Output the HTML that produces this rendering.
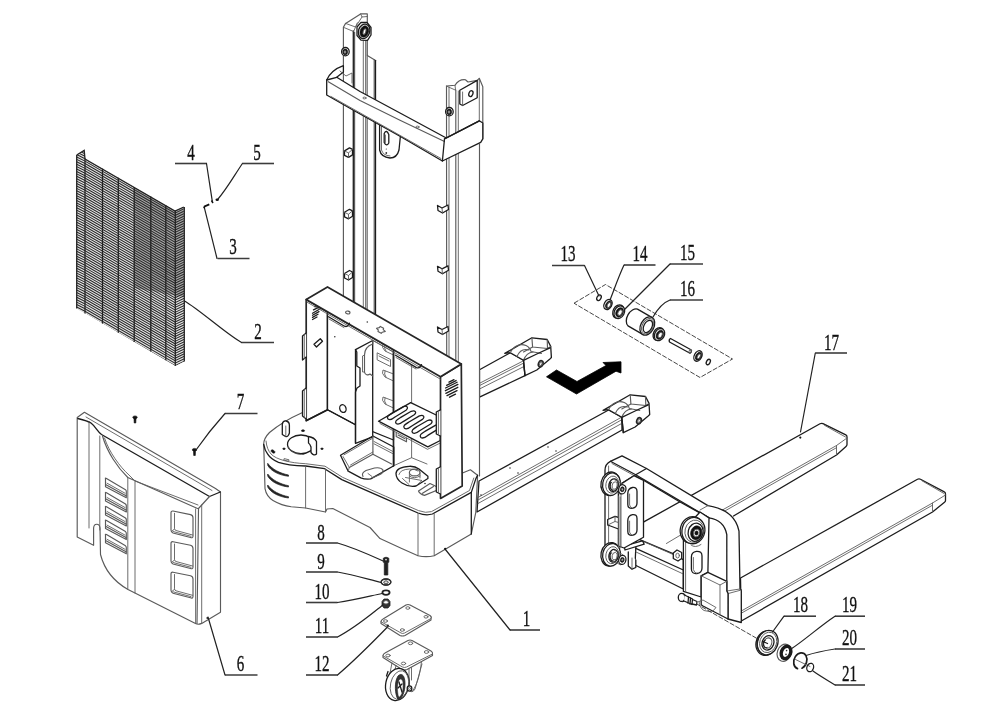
<!DOCTYPE html>
<html><head><meta charset="utf-8"><title>Exploded view</title>
<style>
html,body{margin:0;padding:0;background:#fff;}
body{width:1000px;height:719px;overflow:hidden;font-family:"Liberation Serif",serif;}
svg{display:block;filter:blur(0.45px);}
.m{fill:none;stroke:#1c1c1c;stroke-width:1.3;stroke-linejoin:round;stroke-linecap:round;}
.w{fill:#fff;stroke:#1c1c1c;stroke-width:1.3;stroke-linejoin:round;stroke-linecap:round;}
.t{fill:none;stroke:#5c5c5c;stroke-width:0.9;stroke-linejoin:round;stroke-linecap:round;}
.tw{fill:#fff;stroke:#5c5c5c;stroke-width:0.9;stroke-linejoin:round;}
.g{fill:none;stroke:#5a5a5a;stroke-width:1.15;stroke-linejoin:round;stroke-linecap:round;}
.gw{fill:#fff;stroke:#5a5a5a;stroke-width:1.15;stroke-linejoin:round;stroke-linecap:round;}
.f{fill:none;stroke:#262626;stroke-width:1.7;stroke-linejoin:round;stroke-linecap:round;}
.fw{fill:#fff;stroke:#262626;stroke-width:1.7;stroke-linejoin:round;stroke-linecap:round;}
.nf{fill:#fff;stroke:none;}
.k{fill:#111;stroke:#111;stroke-width:0.6;}
.ld{fill:none;stroke:#222;stroke-width:1.2;stroke-linecap:round;}
.ul{fill:none;stroke:#3c3c3c;stroke-width:1.6;}
.lb{font-family:"Liberation Serif",serif;font-size:23.5px;fill:#111;stroke:#111;stroke-width:0.35;text-anchor:middle;}
.mw{fill:none;stroke:#2a2a2a;stroke-width:1.05;}
.mv{fill:none;stroke:#222;stroke-width:1.3;}
.ds{fill:none;stroke:#333;stroke-width:0.9;stroke-dasharray:5 1.5;}
</style></head><body>
<svg width="1000" height="719" viewBox="0 0 1000 719">
<rect x="0" y="0" width="1000" height="719" fill="#fff"/>
<defs><clipPath id="mc"><path d="M76.7 155 L84.2 150.3 L85 159 L175 211 L183.8 207 L184.3 361.5 L175.6 366 L85 313 L76.7 308.5 Z"/></clipPath></defs>
<g clip-path="url(#mc)">
<path d="M76.7 150 L184.5 150 L184.5 367 L76.7 367 Z" fill="#e6e6e6"/>
<path d="M134.2 180 L184 205 L184 297 L134.2 288 Z" fill="#a8a8a8"/>
<path class="mw" d="M76.7 115.80 L85 120.00 L175 172.00 L184.3 167.50 M76.7 118.22 L85 122.42 L175 174.42 L184.3 169.92 M76.7 120.64 L85 124.84 L175 176.84 L184.3 172.34 M76.7 123.06 L85 127.26 L175 179.26 L184.3 174.76 M76.7 125.48 L85 129.68 L175 181.68 L184.3 177.18 M76.7 127.90 L85 132.10 L175 184.10 L184.3 179.60 M76.7 130.32 L85 134.52 L175 186.52 L184.3 182.02 M76.7 132.74 L85 136.94 L175 188.94 L184.3 184.44 M76.7 135.16 L85 139.36 L175 191.36 L184.3 186.86 M76.7 137.58 L85 141.78 L175 193.78 L184.3 189.28 M76.7 140.00 L85 144.20 L175 196.20 L184.3 191.70 M76.7 142.42 L85 146.62 L175 198.62 L184.3 194.12 M76.7 144.84 L85 149.04 L175 201.04 L184.3 196.54 M76.7 147.26 L85 151.46 L175 203.46 L184.3 198.96 M76.7 149.68 L85 153.88 L175 205.88 L184.3 201.38 M76.7 152.10 L85 156.30 L175 208.30 L184.3 203.80 M76.7 154.52 L85 158.72 L175 210.72 L184.3 206.22 M76.7 156.94 L85 161.14 L175 213.14 L184.3 208.64 M76.7 159.36 L85 163.56 L175 215.56 L184.3 211.06 M76.7 161.78 L85 165.98 L175 217.98 L184.3 213.48 M76.7 164.20 L85 168.40 L175 220.40 L184.3 215.90 M76.7 166.62 L85 170.82 L175 222.82 L184.3 218.32 M76.7 169.04 L85 173.24 L175 225.24 L184.3 220.74 M76.7 171.46 L85 175.66 L175 227.66 L184.3 223.16 M76.7 173.88 L85 178.08 L175 230.08 L184.3 225.58 M76.7 176.30 L85 180.50 L175 232.50 L184.3 228.00 M76.7 178.72 L85 182.92 L175 234.92 L184.3 230.42 M76.7 181.14 L85 185.34 L175 237.34 L184.3 232.84 M76.7 183.56 L85 187.76 L175 239.76 L184.3 235.26 M76.7 185.98 L85 190.18 L175 242.18 L184.3 237.68 M76.7 188.40 L85 192.60 L175 244.60 L184.3 240.10 M76.7 190.82 L85 195.02 L175 247.02 L184.3 242.52 M76.7 193.24 L85 197.44 L175 249.44 L184.3 244.94 M76.7 195.66 L85 199.86 L175 251.86 L184.3 247.36 M76.7 198.08 L85 202.28 L175 254.28 L184.3 249.78 M76.7 200.50 L85 204.70 L175 256.70 L184.3 252.20 M76.7 202.92 L85 207.12 L175 259.12 L184.3 254.62 M76.7 205.34 L85 209.54 L175 261.54 L184.3 257.04 M76.7 207.76 L85 211.96 L175 263.96 L184.3 259.46 M76.7 210.18 L85 214.38 L175 266.38 L184.3 261.88 M76.7 212.60 L85 216.80 L175 268.80 L184.3 264.30 M76.7 215.02 L85 219.22 L175 271.22 L184.3 266.72 M76.7 217.44 L85 221.64 L175 273.64 L184.3 269.14 M76.7 219.86 L85 224.06 L175 276.06 L184.3 271.56 M76.7 222.28 L85 226.48 L175 278.48 L184.3 273.98 M76.7 224.70 L85 228.90 L175 280.90 L184.3 276.40 M76.7 227.12 L85 231.32 L175 283.32 L184.3 278.82 M76.7 229.54 L85 233.74 L175 285.74 L184.3 281.24 M76.7 231.96 L85 236.16 L175 288.16 L184.3 283.66 M76.7 234.38 L85 238.58 L175 290.58 L184.3 286.08 M76.7 236.80 L85 241.00 L175 293.00 L184.3 288.50 M76.7 239.22 L85 243.42 L175 295.42 L184.3 290.92 M76.7 241.64 L85 245.84 L175 297.84 L184.3 293.34 M76.7 244.06 L85 248.26 L175 300.26 L184.3 295.76 M76.7 246.48 L85 250.68 L175 302.68 L184.3 298.18 M76.7 248.90 L85 253.10 L175 305.10 L184.3 300.60 M76.7 251.32 L85 255.52 L175 307.52 L184.3 303.02 M76.7 253.74 L85 257.94 L175 309.94 L184.3 305.44 M76.7 256.16 L85 260.36 L175 312.36 L184.3 307.86 M76.7 258.58 L85 262.78 L175 314.78 L184.3 310.28 M76.7 261.00 L85 265.20 L175 317.20 L184.3 312.70 M76.7 263.42 L85 267.62 L175 319.62 L184.3 315.12 M76.7 265.84 L85 270.04 L175 322.04 L184.3 317.54 M76.7 268.26 L85 272.46 L175 324.46 L184.3 319.96 M76.7 270.68 L85 274.88 L175 326.88 L184.3 322.38 M76.7 273.10 L85 277.30 L175 329.30 L184.3 324.80 M76.7 275.52 L85 279.72 L175 331.72 L184.3 327.22 M76.7 277.94 L85 282.14 L175 334.14 L184.3 329.64 M76.7 280.36 L85 284.56 L175 336.56 L184.3 332.06 M76.7 282.78 L85 286.98 L175 338.98 L184.3 334.48 M76.7 285.20 L85 289.40 L175 341.40 L184.3 336.90 M76.7 287.62 L85 291.82 L175 343.82 L184.3 339.32 M76.7 290.04 L85 294.24 L175 346.24 L184.3 341.74 M76.7 292.46 L85 296.66 L175 348.66 L184.3 344.16 M76.7 294.88 L85 299.08 L175 351.08 L184.3 346.58 M76.7 297.30 L85 301.50 L175 353.50 L184.3 349.00 M76.7 299.72 L85 303.92 L175 355.92 L184.3 351.42 M76.7 302.14 L85 306.34 L175 358.34 L184.3 353.84 M76.7 304.56 L85 308.76 L175 360.76 L184.3 356.26 M76.7 306.98 L85 311.18 L175 363.18 L184.3 358.68 M76.7 309.40 L85 313.60 L175 365.60 L184.3 361.10 M76.7 311.82 L85 316.02 L175 368.02 L184.3 363.52 M76.7 314.24 L85 318.44 L175 370.44 L184.3 365.94 M76.7 316.66 L85 320.86 L175 372.86 L184.3 368.36 M76.7 319.08 L85 323.28 L175 375.28 L184.3 370.78 M76.7 321.50 L85 325.70 L175 377.70 L184.3 373.20 M76.7 323.92 L85 328.12 L175 380.12 L184.3 375.62"/>
</g>
<path class="mv" d="M76.7 155.0 L76.7 308.5"/>
<path class="mv" d="M85 158.5 L85 313.5"/>
<path class="mv" d="M102.5 168.6 L102.5 323.6"/>
<path class="mv" d="M118.3 177.7 L118.3 332.7"/>
<path class="mv" d="M134.2 186.9 L134.2 341.9"/>
<path class="mv" d="M150.8 196.5 L150.8 351.5"/>
<path class="mv" d="M165.8 205.2 L165.8 360.2"/>
<path class="mv" d="M175.3 210.7 L175.3 365.7"/>
<path class="mv" d="M184.3 207.0 L184.3 361.5"/>
<path class="mv" d="M76.7 155 L84.2 150.3 L85 159" />
<path class="mv" d="M85 159 L175 211 L183.8 207" />
<path class="gw" d="M77.2 417.5 L84.4 412.3 L215.5 488.5 L220.5 492 L220.5 612.3 L201.7 623.4 Q198 625 195.5 623.5 L128 589.5 C113 581 104 568 100.5 554.5 L100 528 C99.5 523 94 523 93.6 528 L93.6 545.3 L77.2 537 Z" />
<path class="m" d="M77.8 418.5 C84 420 88 421 91 423 C96 427 97 431 101.5 434.5 L209.5 496.5 L220.3 492" />
<path class="g" d="M209.5 496.5 L198.5 508.5 L197 623.5" />
<path class="t" d="M195.6 509 L195.6 623" />
<path class="t" d="M201.7 505 L201.7 623" />
<path class="t" d="M89 421.5 L89 528" />
<path class="t" d="M99.8 436 L99.8 530" />
<path class="t" d="M86 417 L212 490.5" />
<path class="g" d="M102.5 436 C107 452 118 468 127.8 477.5 L197.5 508.5" />
<path class="t" d="M104.5 438 C109 452 120 467 129 475 L135 481 L198 505" />
<path class="t" d="M127.8 477.5 L127.8 589" />
<path class="t" d="M135 481 L135 593" />
<path class="g" d="M105.5 478.7 Q105 477.7 106.5 478.5 L125.5 489.7 Q126.5 490.7 126.3 491.7 L126.3 497.7 L105.5 486.7 Z" />
<path class="g" d="M106 484.7 L126 495.7" />
<path class="t" d="M107 483.2 L125 493.2" />
<path class="g" d="M105.5 493 Q105 492 106.5 492.8 L125.5 504 Q126.5 505 126.3 506 L126.3 512 L105.5 501 Z" />
<path class="g" d="M106 499 L126 510" />
<path class="t" d="M107 497.5 L125 507.5" />
<path class="g" d="M105.5 507 Q105 506 106.5 506.8 L125.5 518 Q126.5 519 126.3 520 L126.3 526 L105.5 515 Z" />
<path class="g" d="M106 513 L126 524" />
<path class="t" d="M107 511.5 L125 521.5" />
<path class="g" d="M105.5 520.6 Q105 519.6 106.5 520.4 L125.5 531.6 Q126.5 532.6 126.3 533.6 L126.3 539.6 L105.5 528.6 Z" />
<path class="g" d="M106 526.6 L126 537.6" />
<path class="t" d="M107 525.1 L125 535.1" />
<path class="g" d="M105.5 534.8 Q105 533.8 106.5 534.5999999999999 L125.5 545.8 Q126.5 546.8 126.3 547.8 L126.3 553.8 L105.5 542.8 Z" />
<path class="g" d="M106 540.8 L126 551.8" />
<path class="t" d="M107 539.3 L125 549.3" />
<path class="g" d="M171 512.8 Q171 510.8 173 511.0 L190.5 514.6 Q193 515.3 193 517.8 L193 536.0 Q193 538.5 190.5 537.5 L173 533.0 Q171 532.0 171 530.0 Z" />
<path class="t" d="M174.5 513.3 L174.5 528.5 Q174.5 530.0 176 530.5 L192.5 535.0" />
<path class="t" d="M171.5 531.5 L174.5 529.0" />
<path class="t" d="M173 531.5 L191 536.3" />
<path class="g" d="M171 543.5 Q171 541.5 173 541.7 L190.5 545.3 Q193 546.0 193 548.5 L193 567.0 Q193 569.5 190.5 568.5 L173 564.0 Q171 563.0 171 561.0 Z" />
<path class="t" d="M174.5 544.0 L174.5 559.5 Q174.5 561.0 176 561.5 L192.5 566.0" />
<path class="t" d="M171.5 562.5 L174.5 560.0" />
<path class="t" d="M173 562.5 L191 567.3" />
<path class="g" d="M171 574 Q171 572 173 572.2 L190.5 575.8 Q193 576.5 193 579 L193 596.3 Q193 598.8 190.5 597.8 L173 593.3 Q171 592.3 171 590.3 Z" />
<path class="t" d="M174.5 574.5 L174.5 588.8 Q174.5 590.3 176 590.8 L192.5 595.3" />
<path class="t" d="M171.5 591.8 L174.5 589.3" />
<path class="t" d="M173 591.8 L191 596.5999999999999" />
<path class="k" d="M132.7 417.5 a2.3 1.6 0 0 1 4.6 0 L136 419.0 L135.8 423.0 L134.2 423.0 L134 419.0 Z"/>
<path class="k" d="M192.2 450 a2.3 1.6 0 0 1 4.6 0 L195.5 451.5 L195.3 455.5 L193.7 455.5 L193.5 451.5 Z"/>
<circle cx="207.3" cy="618" r="0.9" fill="#222"/>
<path class="w" d="M479.5 369.8 L510.3 352.7 L523.5 360.3 L525 375.6 L479.5 397.2 Z" />
<path class="t" d="M479.5 383.3 L523.5 360.8" />
<path class="t" d="M479.5 385.6 L523.8 363" />
<path class="t" d="M479.5 389 L524 366.5" />
<path class="w" d="M 504.8 353.4 L 531.9 337.8 L 547.2 339.5 L 550.7 346.4 L 551.4 357.5 L 549.3 359.6 L 536.8 370.0 L 525.0 375.6 L 523.5 360.3 L 510.3 352.7 Z" />
<path class="g" d="M 531.9 337.8 L 532.6 347.0 L 547.5 348.5 L 550.7 346.4" />
<path class="g" d="M 532.6 347.0 L 523.5 352.0" />
<path class="g" d="M 547.2 339.5 L 547.5 348.5" />
<path class="g" d="M 510.3 352.7 C 513.0 346.0 520.0 343.0 526.0 345.5 C 529.0 347.0 530.5 349.0 531.0 351.5 L 541.5 353.5" />
<path class="g" d="M 517.0 356.5 C 519.5 350.5 524.0 348.5 529.0 350.0 M 523.5 360.3 C 525.5 355.0 528.5 352.5 533.0 352.0" />
<path class="m" d="M 523.5 360.3 L 536.8 354.0 L 550.0 347.8" />
<path class="m" d="M 523.5 360.3 L 525.0 375.6" />
<ellipse class="f" cx="540.7" cy="363.8" rx="2.2" ry="3.1" transform="rotate(20 540.7 363.8)" />
<ellipse class="t" cx="540.9" cy="363.9" rx="1.2" ry="2.0" transform="rotate(20 540.9 363.9)" />
<path class="w" d="M479 481 L608.6 410 L621.8 417.3 L622 430 L477 512 Z" />
<path class="t" d="M478 497.5 L621 417.5" />
<path class="t" d="M478 500 L621.3 420" />
<path class="t" d="M478 503.5 L621.6 423.5" />
<circle cx="548" cy="447" r="0.8" fill="#333"/>
<circle cx="556" cy="451" r="0.8" fill="#333"/>
<circle cx="510" cy="468" r="0.8" fill="#333"/>
<circle cx="518" cy="473" r="0.8" fill="#333"/>
<circle cx="481" cy="495" r="0.8" fill="#333"/>
<path class="w" d="M 603.1 410.4 L 630.2 394.8 L 645.5 396.5 L 649.0 403.4 L 649.7 414.5 L 647.6 416.6 L 635.1 427.0 L 623.3 432.6 L 621.8 417.3 L 608.6 409.7 Z" />
<path class="g" d="M 630.2 394.8 L 630.9 404.0 L 645.8 405.5 L 649.0 403.4" />
<path class="g" d="M 630.9 404.0 L 621.8 409.0" />
<path class="g" d="M 645.5 396.5 L 645.8 405.5" />
<path class="g" d="M 608.6 409.7 C 611.3 403.0 618.3 400.0 624.3 402.5 C 627.3 404.0 628.8 406.0 629.3 408.5 L 639.8 410.5" />
<path class="g" d="M 615.3 413.5 C 617.8 407.5 622.3 405.5 627.3 407.0 M 621.8 417.3 C 623.8 412.0 626.8 409.5 631.3 409.0" />
<path class="m" d="M 621.8 417.3 L 635.1 411.0 L 648.3 404.8" />
<path class="m" d="M 621.8 417.3 L 623.3 432.6" />
<ellipse class="f" cx="639.0" cy="420.8" rx="2.2" ry="3.1" transform="rotate(20 639.0 420.8)" />
<ellipse class="t" cx="639.1999999999999" cy="420.9" rx="1.2" ry="2.0" transform="rotate(20 639.1999999999999 420.9)" />
<path class="nf" d="M343.4 27.3 L345.6 23.4 L360.6 13.9 L367.3 13.9 L367.3 55.6 L375.6 60.6 L375.6 314.2 L343.4 295.7 Z" />
<path class="g" d="M343.4 295.7 L343.4 27.3 L345.6 23.4 L360.6 13.9 L367.3 13.9 L367.3 55.6 L375.6 60.6" />
<path class="m" d="M353.3 31 L353.3 301.3" />
<path class="g" d="M354.6 32 L354.6 302.1" />
<path class="t" d="M363.3 39 L363.3 307.1" />
<path class="g" d="M365.8 39 L365.8 308.5" />
<path class="t" d="M367.3 55 L367.3 309.4" />
<path class="g" d="M374.2 59.6 L374.2 313.4" />
<path class="m" d="M375.5 60.6 L375.5 314.1" />
<path class="t" d="M343.4 27.3 L353.6 31.5 L357.3 22.8" />
<path class="t" d="M345.6 23.4 L355.5 27 L362 17" />
<path class="t" d="M360.6 13.9 L362 17 L367.3 16.5" />
<path class="w" d="M357 27 L361 22.3 L367 22.5 L371 27.5 L371 35 L367.5 40.3 L361 40.2 L357 35.5 Z" />
<ellipse class="m" cx="364.1" cy="31.3" rx="5.6" ry="7.4" transform="rotate(18 364.1 31.3)" />
<ellipse class="k" cx="364.3" cy="31.5" rx="4.2" ry="5.8" transform="rotate(18 364.3 31.5)" />
<ellipse class="tw" cx="364.5" cy="31.6" rx="1.3" ry="3.0" transform="rotate(18 364.5 31.6)" />
<ellipse class="w" cx="345.4" cy="51.7" rx="3.8" ry="4.2" />
<ellipse class="k" cx="345.2" cy="51.9" rx="2.4" ry="2.8" />
<ellipse class="tw" cx="345.0" cy="52.0" rx="1.0" ry="1.3" />
<path class="w" d="M344.5 150.9 L349.5 147.9 L352.5 149.4 L352.5 154.9 L348.5 157.4 L344.5 155.4 Z" />
<path class="t" d="M344.5 150.9 L348.5 152.9 L348.5 157.4 M348.5 152.9 L352.5 149.4" />
<path class="w" d="M344.5 212.3 L349.5 209.3 L352.5 210.8 L352.5 216.3 L348.5 218.8 L344.5 216.8 Z" />
<path class="t" d="M344.5 212.3 L348.5 214.3 L348.5 218.8 M348.5 214.3 L352.5 210.8" />
<path class="w" d="M344.5 273.5 L349.5 270.5 L352.5 272 L352.5 277.5 L348.5 280 L344.5 278 Z" />
<path class="t" d="M344.5 273.5 L348.5 275.5 L348.5 280 M348.5 275.5 L352.5 272" />
<path class="nf" d="M446.3 86 L455 85.3 Q459 79 465.4 79.7 L468 82 L477.2 80.4 L479.3 78.3 L482.8 86.7 L482.8 138.8 L480 144 L480 470 L461.3 470 L461.3 364 L446.3 354.9 Z" />
<path class="g" d="M446.7 354.9 L446.5 86 L455 85.3 Q459 79 465.4 79.7 L468 82 L477.2 80.4 L479.3 78.3 L482.8 86.7 L482.8 138.8" />
<path class="g" d="M479.5 144 L479.5 476" />
<path class="t" d="M449 87 L449 356.4" />
<path class="g" d="M455.8 90 L455.8 360.3" />
<path class="t" d="M458.3 91 L458.3 361.8" />
<path class="t" d="M446.3 86 L455.6 90.2 L455 85.3" />
<path class="t" d="M479.3 78.3 L479.3 121" />
<path class="w" d="M459.8 90.2 L477.2 80.4 L477.2 97.8 L462.6 105.5 L459.8 104 Z" />
<path class="t" d="M462.6 92 L462.6 105.5" />
<ellipse class="m" cx="470.9" cy="93.6" rx="2.0" ry="3.0" transform="rotate(20 470.9 93.6)" />
<ellipse class="w" cx="449.4" cy="111.7" rx="3.8" ry="4.2" />
<ellipse class="k" cx="449.2" cy="111.9" rx="2.4" ry="2.8" />
<ellipse class="tw" cx="449.0" cy="112.0" rx="1.0" ry="1.3" />
<path class="w" d="M437.5 205.5 L442 208 L448 205 L448.5 209.5 L442.5 213 L438 210.5 Z" />
<path class="t" d="M442 208 L442.5 213" />
<path class="w" d="M437.5 266.3 L442 268.8 L448 265.8 L448.5 270.3 L442.5 273.8 L438 271.3 Z" />
<path class="t" d="M442 268.8 L442.5 273.8" />
<path class="w" d="M437.5 327.0 L442 329.5 L448 326.5 L448.5 331.0 L442.5 334.5 L438 332.0 Z" />
<path class="t" d="M442 329.5 L442.5 334.5" />
<path class="w" d="M379.6 110 L379.6 150 Q381 157 390 158 Q397 158 399 150 L401.5 125" />
<path class="t" d="M381.5 120 L381.5 150 Q383 155.5 390 156" />
<path class="m" d="M384.2 133.5 Q386.5 129 388.8 134.5 L388.8 143 Q386.5 147 384.2 142.5 Z" />
<path class="t" d="M385.4 135 L385.4 142.5" />
<circle cx="386.3" cy="149" r="0.6" fill="#333"/><circle cx="386.3" cy="153" r="0.9" fill="#333"/>
<path class="w" d="M326.7 80 Q331 70 343.4 65.6 L343.4 72 L336.7 77.3 L360 91.5 L400 113 L446.3 138 L479.3 120.8 L482.8 123 L482.8 138.8 L480.7 142.3 L442.4 161 L400 136.3 L353.4 110.3 L326.7 95 Z" />
<path class="m" d="M326.7 80 L336.7 77.3" />
<path class="g" d="M328.3 81.7 L360 100.5 L400 120.3 L444.5 141.5" />
<path class="m" d="M444.5 138.8 L442.4 161" />
<path class="m" d="M444.5 138.8 L479.3 120.8" />
<path class="t" d="M331 96.5 L441 158.5" />
<path class="t" d="M340 71 L346 76 L352 73 L352 83" />
<ellipse class="t" cx="364.5" cy="98" rx="1.6" ry="0.9" />
<ellipse class="t" cx="417.5" cy="127" rx="1.6" ry="0.9" />
<path class="nf" d="M302 412.7 C290 418 276 427 269.5 432.5 C265 437 263.7 441 263.7 444.3 L265 488.6 C266 494 269 498 273 500.4 C280 504.5 286 506 291.2 506.7 L305.6 508 L325.5 512 L327 509 L332.8 508.5 L370 527.5 L380 538.6 L401.7 548.5 L418 555.7 Q426 557.5 434.2 555.7 L471.3 534 L475.8 512.3 L477.6 475.3 L470.4 469.8 L461.4 473.5 L440 470 L400 440 L330 410 Z" />
<path class="g" d="M306 411 L302 412.7 C290 418 276 427 269.5 432.5 C265 437 263.7 441 263.7 444.3 L265 488.6 C266 494 269 498 273 500.4 C280 504.5 286 506 291.2 506.7 L305.6 508 L325.5 512 L327 509 L332.8 508.5 L370 527.5 L380 538.6 L401.7 548.5 L418 555.7 Q426 557.5 434.2 555.7 L471.3 534 L475.8 512.3 L477.6 475.3 L470.4 469.8 L462.5 473" />
<path class="m" d="M263.7 444.3 C264.5 449 266 452 267.7 454.2 C270 458 274 460.5 278.5 462.4 C286 465 296 465.7 305.6 466 L324.6 468.7 L341.8 479.6 L385 498.6 L418 513 Q426 516 432.4 514 L471.3 492.4 L475.8 478.9 L477.6 475.3" />
<path class="t" d="M266 441 C266.5 447 268.5 451 271 454 C276 459.5 290 463 305.6 463.7 L325 466.2 L342.5 477.3 L385.5 496.2 L418.5 510.6 Q426 513.5 431.5 511.6 L469.5 490.5 L473.8 478" />
<path class="t" d="M305.6 466 L305.6 508" />
<path class="t" d="M325.5 468.9 L325.5 512" />
<path class="t" d="M418 513.5 L418 555.7" />
<path class="t" d="M434.2 513.7 L434.2 555.7" />
<path class="m" d="M471.3 492.4 L471.3 534" />
<path d="M267.7 463.3 C272 469.3 280 473.3 288.5 475.0 L288.5 476.3 C279 475.1 271 471.3 267.7 465.3 Z" fill="#222" stroke="#222" stroke-width="0.7"/>
<path d="M267.7 474 C272 480 280 484 288.5 485.7 L288.5 487 C279 485.8 271 482 267.7 476 Z" fill="#222" stroke="#222" stroke-width="0.7"/>
<path d="M267.7 485 C272 491 280 495 288.5 496.7 L288.5 498 C279 496.8 271 493 267.7 487 Z" fill="#222" stroke="#222" stroke-width="0.7"/>
<ellipse class="m" cx="301" cy="444.3" rx="13.5" ry="9.3" />
<path class="t" d="M288.5 447 C290 452 297 455 304 454.5" />
<path class="w" d="M308.5 436.5 Q314.5 437.5 316.5 441.5 L316.5 454 Q314 456.5 311 452.5 L311 447 Q310 444 308.5 443 Z" />
<path class="w" d="M282.3 424 Q283 420.5 286 421 Q289.4 421.5 289.4 425.5 L289.4 433 Q288 437.5 285.5 436.5 L282.3 434.5 Z" />
<path class="t" d="M285.8 426 L285.8 436.3" />
<ellipse class="k" cx="303" cy="430.7" rx="1.6" ry="0.9" />
<ellipse class="k" cx="284" cy="448.8" rx="1.3" ry="0.8" />
<ellipse class="k" cx="322" cy="448.8" rx="1.3" ry="0.8" />
<ellipse class="k" cx="273" cy="451.5" rx="2.2" ry="1.3" transform="rotate(35 273 451.5)" />
<path class="t" d="M284.5 458.7 L289 459.8 L288.7 461.3 L284.2 460.2 Z" />
<path class="fw" d="M306.2 299.5 L327.5 312 L327.5 409.8 L306.2 420.7 Z" />
<path class="w" d="M327.5 312 L393.5 350 L393.5 440 L354.6 424.3 L327.5 409.8 Z" />
<path class="m" d="M306.2 420.7 L327.5 409.8 L354.6 424.3" />
<path class="w" d="M306.2 333 L302.5 336 L302.5 360 L306.2 357" />
<path class="t" d="M304.3 334.5 L304.3 358.5" />
<path class="w" d="M306.2 388 L302.5 391 L302.5 416 L306.2 419" />
<path class="t" d="M304.3 389.5 L304.3 417.5" />
<path class="m" d="M314.5 306.6 L322 303.5" />
<path class="m" d="M313.5 309.90000000000003 L322 305.6" />
<path class="m" d="M312.5 313.2 L322 307.7" />
<path class="m" d="M312.5 315.3 L319 311.6" />
<path class="m" d="M312.5 317.4 L318 314.29999999999995" />
<path class="m" d="M312.5 319.5 L317 317.0" />
<path class="m" d="M314 344.2 L320.3 338.7 L322.5 341.2 L316.5 347 Z" />
<circle cx="334.8" cy="336.7" r="0.8" fill="#333"/>
<ellipse class="m" cx="342.9" cy="408.6" rx="3.1" ry="3.9" transform="rotate(-20 342.9 408.6)" />
<path class="w" d="M355.5 349.6 L372.7 340.5 L372.7 436.9 L355.5 443.3 Z" />
<path class="m" d="M355.5 349.6 L356.8 352 L356.8 366 L360 368 L360 386 L357 388 L355.5 392 L355.5 443.3" />
<path class="g" d="M372.7 340.5 L372.7 344 C367 346 364.5 350 364.5 355 L364.5 372 C365 375 368 375.5 370 374 L372.7 376" />
<path class="t" d="M364.5 355 L362.5 356 L362.5 372 L364.5 372" />
<path class="t" d="M372.7 340.5 L393.5 352" />
<path class="t" d="M393.5 355 L385 351 Q381 347 383 344 L393.5 348" />
<path class="t" d="M386 351.2 Q383.5 348 385 345" />
<path class="t" d="M393.5 381 L385 377 Q381 373 383 370 L393.5 374" />
<path class="t" d="M386 377.2 Q383.5 374 385 371" />
<path class="t" d="M393.5 408 L385 404 Q381 400 383 397 L393.5 401" />
<path class="t" d="M386 404.2 Q383.5 401 385 398" />
<path class="t" d="M377.5 353 L390.5 359.5 L390.5 366.5 L377.5 360 Z" />
<path class="t" d="M379 356 L389 361" />
<path class="f" d="M393.5 350.5 L393.5 465.8" />
<path class="t" d="M411.6 365 L411.6 457.7" />
<path class="t" d="M393.5 465.8 L411.6 457.7 L427 464" />
<path class="m" d="M340.5 455.3 L372.9 436 L393.8 447 L393.8 465.7 L370.7 478.9 Q365 479.5 360.8 477.8 L348.2 471.2 Z" />
<path class="g" d="M349.3 467.4 L372.9 454.2 L391.6 464" />
<path class="g" d="M372.9 436 L372.9 454.2" />
<path class="t" d="M343 456.5 L349.3 467.4 M348.2 471.2 L349.3 467.4" />
<path class="t" d="M374 441.5 L392.7 451.4 M374 443.8 L392.7 453.6" />
<path class="t" d="M344 454.8 L372.5 438.3" />
<path class="t" d="M350.5 465 L372.9 452" />
<path class="g" d="M363 476.5 Q361 473 366 470.5 L374.5 468 Q381 467 383 470 Q383.5 472.5 380 474.5 L372 478" />
<path class="t" d="M368 473.5 L372 476.5" />
<path class="w" d="M378.5 421.2 L410.7 402.6 L440.3 417 L440.3 440.5 L427.8 446.9 Z" />
<path class="t" d="M380 423.5 L427.5 449.3 L440.3 443" />
<path class="m" d="M388.0 419.0 C386.0 416.5 389.0 415.0 393.0 412.5 L403.0 406.7 C407.0 405.2 409.0 407.7 406.0 410.2 L395.0 417.0 C392.0 419.5 390.0 420.5 388.0 419.0 Z" />
<path class="m" d="M396.2 423.6 C394.2 421.1 397.2 419.6 401.2 417.1 L411.2 411.3 C415.2 409.8 417.2 412.3 414.2 414.8 L403.2 421.6 C400.2 424.1 398.2 425.1 396.2 423.6 Z" />
<path class="m" d="M404.4 428.2 C402.4 425.7 405.4 424.2 409.4 421.7 L419.4 415.9 C423.4 414.4 425.4 416.9 422.4 419.4 L411.4 426.2 C408.4 428.7 406.4 429.7 404.4 428.2 Z" />
<path class="m" d="M412.6 432.8 C410.6 430.3 413.6 428.8 417.6 426.3 L427.6 420.5 C431.6 419.0 433.6 421.5 430.6 424.0 L419.6 430.8 C416.6 433.3 414.6 434.3 412.6 432.8 Z" />
<path class="m" d="M420.8 437.4 C418.8 434.9 421.8 433.4 425.8 430.9 L435.8 425.09999999999997 C439.8 423.59999999999997 441.8 426.09999999999997 438.8 428.59999999999997 L427.8 435.4 C424.8 437.9 422.8 438.9 420.8 437.4 Z" />
<path class="g" d="M396.2 432.5 L396.2 436.5 L406.5 441.8 L406.5 438 M398 435 L405 438.7" />
<path class="m" d="M396 473.4 Q396.5 467 409.2 466.3 Q415 466 419 469 L427.9 476.2 L427.9 478.5 L416 486 Q409 487.5 402 483 Q396 479 396 473.4 Z" />
<path class="t" d="M399 474.5 Q400 469.5 409.5 469 Q415 469 418 471" />
<ellipse class="g" cx="414.7" cy="472.5" rx="5.3" ry="3.4" />
<path class="t" d="M409.4 472.8 L409.4 482 M420 472.8 L420 478" />
<path class="t" d="M409.4 476 Q414 479.5 420 476" />
<path class="t" d="M402.5 478.5 L409 484.5 M405.5 477.5 L422 480.5 L417.5 484.5" />
<circle cx="425" cy="483.5" r="0.8" fill="#333"/>
<path class="g" d="M418.5 491 L430 483.5 L436.3 486.5 M422.5 493.3 L433.5 486.5 M418.5 491 Q419.5 494 424.5 495.4 L436.3 490.5" />
<path class="fw" d="M440.5 376.7 L461.3 364 L462.2 486 L440.5 498.4 Z" />
<path class="w" d="M440.5 409.8 L436.3 412 L436.3 434 L440.5 436" />
<path class="t" d="M438.4 411 L438.4 435" />
<path class="w" d="M440.5 466.7 L436.3 469 L436.3 492 L440.5 494" />
<path class="t" d="M438.4 468 L438.4 493" />
<path class="m" d="M449 382.2 L454 379.7" />
<path class="m" d="M446.6 385.3 L456.1 380.55" />
<path class="m" d="M445.6 388 L457.1 382.25" />
<path class="m" d="M445.4 390.7 L457.9 384.45" />
<path class="m" d="M445.8 393.3 L457.8 387.3" />
<path class="m" d="M447 395.6 L457 390.6" />
<path class="m" d="M449.5 397.2 L455.5 394.2" />
<path class="fw" d="M306.2 299.5 L327.5 286.9 L461.3 364 L440.5 376.7 Z" />
<path class="t" d="M306.8 302 L440.5 379.2" />
<path class="m" d="M328.5 316.8 L344.5 326.2 Q347 327.2 348.3 325 L349.5 323.2" />
<path class="t" d="M329 319 L344 327.6" />
<path class="m" d="M395.5 355.3 L416.5 367.6 Q419 368.6 420.3 366.4 L421.5 364.6" />
<path class="t" d="M396 357.5 L416 369" />
<ellipse class="g" cx="347.8" cy="312.5" rx="2.2" ry="1.4" transform="rotate(10 347.8 312.5)" />
<circle cx="367.3" cy="322" r="0.8" fill="#333"/>
<path class="g" d="M376.5 328.3 L379.3 327.6 L380.3 326.4 L383.6 328.3 L383.2 329.6 L385.3 331.4 L382.3 332.2 L381.2 333.3 L378 331.5 L378.3 330 Z" />
<path d="M546.5 376.8 L556.5 370 L577 381.5 L606 365.5 L603 362.5 L621 361.8 L621 373 L616 371.2 L576.5 394 Z" fill="#000" stroke="#000" stroke-width="0.8" stroke-linejoin="round"/>
<path class="ds" d="M574 303.2 L605.5 284.5 L732.5 359 L700 377.5 Z" />
<ellipse class="m" cx="599" cy="297.7" rx="2.0" ry="3.0" transform="rotate(28 599 297.7)" />
<ellipse class="w" cx="608" cy="304.5" rx="3.8" ry="5.3" transform="rotate(28 608 304.5)" />
<ellipse class="k" cx="608.5" cy="304.8" rx="2.6" ry="3.9" transform="rotate(28 608.5 304.8)" />
<ellipse class="tw" cx="608.9" cy="305" rx="1.5" ry="2.6" transform="rotate(28 608.9 305)" />
<ellipse class="w" cx="618.3" cy="311.5" rx="5.2" ry="7.0" transform="rotate(28 618.3 311.5)" />
<ellipse class="w" cx="619.3" cy="312.2" rx="5.0" ry="6.6" transform="rotate(28 619.3 312.2)" />
<ellipse class="k" cx="619.6" cy="312.4" rx="3.6" ry="5.0" transform="rotate(28 619.6 312.4)" />
<ellipse class="tw" cx="620" cy="312.6" rx="1.9" ry="3.0" transform="rotate(28 620 312.6)" />
<path class="w" d="M652.2 317.6 L637.5 309.1 A6.6 9.8 28 0 0 628 325.9 L642.7 334.4" />
<ellipse class="w" cx="647.3" cy="326" rx="6.6" ry="9.8" transform="rotate(28 647.3 326)" />
<ellipse class="t" cx="647.6" cy="326.2" rx="5.4" ry="8.2" transform="rotate(28 647.6 326.2)" />
<ellipse class="m" cx="647.9" cy="326.4" rx="4.0" ry="6.6" transform="rotate(28 647.9 326.4)" />
<ellipse class="w" cx="658.5" cy="334" rx="5.0" ry="6.8" transform="rotate(28 658.5 334)" />
<ellipse class="w" cx="659.5" cy="334.6" rx="4.8" ry="6.4" transform="rotate(28 659.5 334.6)" />
<ellipse class="k" cx="659.8" cy="334.8" rx="3.4" ry="4.8" transform="rotate(28 659.8 334.8)" />
<ellipse class="tw" cx="660.2" cy="335" rx="1.8" ry="2.9" transform="rotate(28 660.2 335)" />
<path class="w" d="M670.5 338.5 L690.5 349.5 Q692.5 351.5 690 353.2 L669.5 342 Q668.5 339.5 670.5 338.5 Z" />
<ellipse class="t" cx="690.3" cy="351.3" rx="1.2" ry="2.0" transform="rotate(28 690.3 351.3)" />
<ellipse class="w" cx="698" cy="356" rx="3.7" ry="5.6" transform="rotate(28 698 356)" />
<ellipse class="k" cx="698.4" cy="356.2" rx="2.6" ry="4.2" transform="rotate(28 698.4 356.2)" />
<ellipse class="tw" cx="698.8" cy="356.4" rx="1.3" ry="2.6" transform="rotate(28 698.8 356.4)" />
<ellipse class="m" cx="708.3" cy="362" rx="1.8" ry="2.9" transform="rotate(28 708.3 362)" />
<path d="M643.8 521.9 L821.5 423 L847 435.5 L847 445.5 L836.5 455 L733.5 516 L700 536 L643.8 537 Z" fill="#fff"/>
<path class="m" d="M643.8 521.9 L820 423.8 Q821.5 423 823 423.7 L845.8 434.9 Q847 435.5 847 437 L847 444.5 Q847 445.5 846 446.4 L836.5 455 L733.5 516" />
<path class="t" d="M666.4 543.5 L684 533" />
<path class="t" d="M722.4 510 L836.5 445.5 L847 438" />
<path class="t" d="M723.4 511.8 L836.5 447.7" />
<path class="t" d="M824.5 425.3 L845.5 437 M836.5 445.5 L836.5 455" />
<path class="w" d="M740.5 578 L917.5 479.3 Q919 478.5 920.5 479.3 L944.3 491.9 Q945.5 492.5 945.5 494 L945.5 500.5 Q945.5 501.5 944.5 502.3 L932.5 512 L741.3 621 Z" />
<path class="t" d="M741.3 611 L932.5 503 L945.5 495" />
<path class="t" d="M741.3 613.2 L932.5 505.2" />
<path class="t" d="M922 480.8 L944 493.5 M932.5 503 L932.5 512" />
<path class="w" d="M636.7 538.3 L678.3 555.8 L683.3 560 L683.3 589 L635 565 L635.8 548.3 Z" />
<path class="m" d="M635.8 548.3 L683.3 570" />
<path class="t" d="M644 541.7 L680 557.5" />
<path class="t" d="M636 552 L683.3 574" />
<path class="w" d="M624.2 545.8 L642.5 540.8 L644.2 544.2 L625 550 Z" />
<path class="w" d="M628.3 552 L628.3 566 L632 569.2 L635.8 567.5 L635.8 560" />
<path class="t" d="M632 558 L632 569.2" />
<path class="w" d="M673.3 553 L677 550 L681.7 552.5 L681.7 558.5 L678 561 L673.3 558.5 Z" />
<ellipse class="t" cx="677.6" cy="555.6" rx="1.8" ry="2.4" />
<path class="w" d="M605 470.3 Q605 464 610.4 461.3 L622 455.8 L646.5 468.5 L707.9 505.6 Q735 510 739 531.2 L740 589 L741.3 590 L741.3 622.5 L728 619 L728 593.6 L726.8 591 L726.8 534.6 Q724 520 709 517.9 L680 502 L643.5 480.3 L633.9 475.7 L621.2 483.9 L618.5 490 L618.5 548 L605 553.5 Z" />
<path class="m" d="M610.4 461.3 L635.7 474.8 L646.5 468.5" />
<path class="m" d="M635.7 474.8 L709 517.9" />
<path class="t" d="M608.6 466 L608.6 552" />
<path class="t" d="M612 463.5 L634 475.5" />
<path class="t" d="M700 510 L707.9 505.6" />
<path class="t" d="M726.8 591 L740 589 M728 593.6 L741.3 590" />
<path class="w" d="M607.7 519.5 L615 516.4 L631.2 521 L631.2 526.4 L618.5 529 L607.7 525 Z" />
<path class="t" d="M615 516.4 L615 521.5 L607.7 525 M615 521.5 L631 526" />
<path class="t" d="M626 512 L630.5 514.5 L630.5 520.8 M626 512 L623.5 514 L623.5 518.7" />
<path class="w" d="M621.2 483.9 L633.9 475.7 L643.5 480.3 L643.5 537.2 L624 548 L618.5 546 L618.5 490 Z" />
<path class="t" d="M621 490 L621 546.5" />
<path class="m" d="M627.8 493.5 Q627.8 488.5 632.5 487.5 Q637 487.0 637 491.5 L637 503.0 Q637 507.5 632.3 508.3 Q627.8 508.5 627.8 504.5 Z" />
<path class="t" d="M629.6 494.0 L629.6 505.0 Q630 507.0 632.3 508.3" />
<path class="m" d="M627.8 520.6 Q627.8 515.6 632.5 514.6 Q637 514.1 637 518.6 L637 530.1 Q637 534.6 632.3 535.4 Q627.8 535.6 627.8 531.6 Z" />
<path class="t" d="M629.6 521.1 L629.6 532.1 Q630 534.1 632.3 535.4" />
<ellipse class="w" cx="610.3" cy="483.7" rx="9.3" ry="11.8" transform="rotate(12 610.3 483.7)" />
<ellipse class="w" cx="611.5" cy="484.2" rx="8.8" ry="11.4" transform="rotate(12 611.5 484.2)" />
<ellipse class="t" cx="612.3" cy="484.59999999999997" rx="6.4" ry="8.6" transform="rotate(12 612.3 484.59999999999997)" />
<ellipse class="w" cx="613.5" cy="485.2" rx="4.6" ry="6.4" transform="rotate(12 613.5 485.2)" />
<path d="M610.0 482.2 A4.6 6.4 12 0 0 613.0 491.2 L614.0 489.7 A3.2 4.6 12 0 1 612.3 481.7 Z" fill="#222"/>
<ellipse class="t" cx="614.7" cy="485.59999999999997" rx="2.6" ry="3.8" transform="rotate(12 614.7 485.59999999999997)" />
<path class="t" d="M614.5 479.7 L622.5 483.9 M614.5 491.2 L620.5 494.2" />
<ellipse class="w" cx="622.3" cy="489.3" rx="3.6" ry="4.6" transform="rotate(12 622.3 489.3)" />
<ellipse class="k" cx="622.3" cy="489.3" rx="1.9" ry="2.5" transform="rotate(12 622.3 489.3)" />
<ellipse class="tw" cx="622.3" cy="489.3" rx="0.8" ry="1.1" transform="rotate(12 622.3 489.3)" />
<ellipse class="w" cx="610.3" cy="554.3" rx="9.3" ry="11.8" transform="rotate(12 610.3 554.3)" />
<ellipse class="w" cx="611.5" cy="554.8" rx="8.8" ry="11.4" transform="rotate(12 611.5 554.8)" />
<ellipse class="t" cx="612.3" cy="555.1999999999999" rx="6.4" ry="8.6" transform="rotate(12 612.3 555.1999999999999)" />
<ellipse class="w" cx="613.5" cy="555.8" rx="4.6" ry="6.4" transform="rotate(12 613.5 555.8)" />
<path d="M610.0 552.8 A4.6 6.4 12 0 0 613.0 561.8 L614.0 560.3 A3.2 4.6 12 0 1 612.3 552.3 Z" fill="#222"/>
<ellipse class="t" cx="614.7" cy="556.1999999999999" rx="2.6" ry="3.8" transform="rotate(12 614.7 556.1999999999999)" />
<path class="t" d="M614.5 550.3 L622.5 554.5 M614.5 561.8 L620.5 564.8" />
<ellipse class="w" cx="622.3" cy="559.9" rx="3.6" ry="4.6" transform="rotate(12 622.3 559.9)" />
<ellipse class="k" cx="622.3" cy="559.9" rx="1.9" ry="2.5" transform="rotate(12 622.3 559.9)" />
<ellipse class="tw" cx="622.3" cy="559.9" rx="0.8" ry="1.1" transform="rotate(12 622.3 559.9)" />
<path class="t" d="M618.5 496 L618.5 548 M620.2 497 L620.2 548" />
<path class="w" d="M683.4 530 L683.4 591.4 L701.2 597 L701.2 575.8 L707.9 572.4 L709 517.9 L700 512 Z" />
<path class="t" d="M685.6 540 L685.6 592" />
<path class="w" d="M701.2 575.8 L707.9 572.4 L726.8 581.3 L726.8 591 L728 593.6 L728 619 L703 606 L701.2 604.7 Z" />
<path class="t" d="M701.2 575.8 L720 585 L726.8 581.3 M720 585 L720 614.8" />
<path class="m" d="M691.4 557 Q691.4 552 696.5 551.3 Q702 551 702 556 L702 568 Q702 573 696.8 573.5 Q691.4 574 691.4 569 Z" />
<path class="t" d="M693.4 557.5 L693.4 569.5 Q694 572.5 696.8 573.5" />
<path class="t" d="M691 545 Q695 548.5 701 544.5" />
<ellipse class="w" cx="691.9" cy="529.9" rx="11.6" ry="13.4" transform="rotate(14 691.9 529.9)" />
<ellipse class="w" cx="693.4" cy="530.6" rx="11.4" ry="13.2" transform="rotate(14 693.4 530.6)" />
<ellipse class="t" cx="694.4" cy="531.2" rx="9.4" ry="11.2" transform="rotate(14 694.4 531.2)" />
<ellipse class="w" cx="695.6" cy="532.2" rx="7.4" ry="9.2" transform="rotate(14 695.6 532.2)" />
<ellipse class="k" cx="696.3" cy="532.8000000000001" rx="5.6" ry="7.0" transform="rotate(14 696.3 532.8000000000001)" />
<ellipse class="tw" cx="696.5" cy="533.0" rx="3.0" ry="3.9" transform="rotate(14 696.5 533.0)" />
<ellipse class="k" cx="696.5" cy="533.0" rx="1.6" ry="2.1" transform="rotate(14 696.5 533.0)" />
<ellipse class="w" cx="682.3" cy="597.6" rx="3.3" ry="4.0" />
<ellipse class="w" cx="681.6" cy="597.4" rx="3.3" ry="4.0" />
<path class="w" d="M684.5 595 L692.5 599 L692 604.5 L684 601" />
<path class="m" d="M688.5 597 L688 603 M690.5 598 L690 604" />
<path class="m" d="M692.5 599.5 L697 601.5 L696.5 605 L692 604" />
<path class="t" d="M699 601.5 L703 600 L716 607.5 L712 612 L704 610.5 Q699.5 608 699 601.5 Z" />
<path class="ds" d="M696 603.5 L757 638.5" />
<ellipse class="w" cx="766.6" cy="643.0" rx="10.4" ry="12.6" transform="rotate(20 766.6 643.0)" />
<ellipse class="w" cx="767.6" cy="642.6" rx="10.2" ry="12.4" transform="rotate(20 767.6 642.6)" />
<ellipse class="t" cx="768.2" cy="642.4" rx="8.4" ry="10.4" transform="rotate(20 768.2 642.4)" />
<ellipse class="m" cx="768.0" cy="642.8" rx="5.8" ry="7.4" transform="rotate(20 768.0 642.8)" />
<ellipse class="g" cx="767.8" cy="643.0" rx="3.9" ry="5.2" transform="rotate(20 767.8 643.0)" />
<path d="M764.5 639.5 A3.9 5.2 20 0 0 767 648 L768 646.5 A2.6 3.8 20 0 1 766 640 Z" fill="#222"/>
<path d="M757.6 639 A10.4 12.6 20 0 0 764.5 655 L766 654.2 A9.4 11.6 20 0 1 759.2 638.6 Z" fill="#222"/>
<path class="m" d="M763 641.5 L767.5 643.5" />
<ellipse class="gw" cx="784.2" cy="652.8" rx="6.9" ry="8.8" transform="rotate(20 784.2 652.8)" />
<ellipse cx="786" cy="652.4" rx="4.6" ry="6.4" transform="rotate(20 786 652.4)" fill="#fff" stroke="#1a1a1a" stroke-width="3.4"/>
<circle cx="786.6" cy="650.6" r="0.8" fill="#333"/><circle cx="786" cy="654.4" r="0.8" fill="#333"/>
<path d="M797.5 668.6 A6.4 8.2 20 1 1 802 668.2" fill="none" stroke="#1c1c1c" stroke-width="1.7" stroke-linecap="round"/>
<path class="t" d="M795.5 659.5 L810 666.5" />
<ellipse class="m" cx="810.2" cy="667.5" rx="3.3" ry="4.3" transform="rotate(20 810.2 667.5)" />
<path d="M383.3 558.2 Q386 556.2 388.8 558.2 L388.8 562.3 L383.3 562.3 Z" fill="#222" stroke="#222" stroke-width="0.8"/>
<path d="M384.3 562.5 L387.8 562.5 L387.8 575 L384.3 575 Z" fill="#222" stroke="#222" stroke-width="0.8"/>
<circle cx="386" cy="559.6" r="0.9" fill="#ddd"/>
<ellipse class="w" cx="386" cy="582" rx="4.8" ry="3.0" />
<ellipse class="k" cx="386" cy="582.3" rx="2.2" ry="1.4" />
<ellipse cx="386" cy="582" rx="4.8" ry="3" fill="none" stroke="#333" stroke-width="1.4"/>
<ellipse class="tw" cx="386" cy="582.2" rx="2.0" ry="1.2" />
<ellipse cx="386" cy="592.6" rx="3.6" ry="2.2" fill="#fff" stroke="#222" stroke-width="1.8"/>
<path d="M382 601.5 L384 599 L388 599 L390 601.5 L390 605.5 L388 608 L384 608 L382 605.5 Z" fill="#333" stroke="#222" stroke-width="0.8"/>
<ellipse class="tw" cx="386" cy="602.3" rx="2.4" ry="1.7" />
<path class="gw" d="M381 621.7 Q381 620 383 619 L406 605 Q408 604 410 605 L430 615.5 Q432 617 431 618.5 L431 620 L405 635.5 Q402.5 636.5 400 635.5 L381 623.5 Z" />
<path class="t" d="M381 621.7 L401 633 Q402.5 634 404.5 633 L431 618.5" />
<ellipse class="t" cx="385.5" cy="621" rx="2.0" ry="1.3" />
<ellipse class="t" cx="407.8" cy="608" rx="2.0" ry="1.3" />
<ellipse class="t" cx="426" cy="616.8" rx="2.0" ry="1.3" />
<ellipse class="t" cx="402.3" cy="630" rx="2.0" ry="1.3" />
<circle cx="387.8" cy="625.7" r="1.2" fill="#222"/>
<path class="gw" d="M383 655.8 Q383 654 385 653 L408 640.5 Q410 639.5 412 640.5 L431 651 Q433 652.3 432.5 654 L432.5 655.5 L407 669.5 Q404.5 670.5 402 669.5 L383 657.5 Z" />
<path class="t" d="M383 655.8 L402.5 667 Q404.5 668 406.5 667 L432.5 654" />
<ellipse class="t" cx="388" cy="655.5" rx="2.2" ry="1.4" />
<ellipse class="t" cx="410.5" cy="643.3" rx="2.2" ry="1.4" />
<ellipse class="t" cx="426.5" cy="652" rx="2.2" ry="1.4" />
<ellipse class="t" cx="403.5" cy="663.5" rx="2.2" ry="1.4" />
<path class="t" d="M392 663 L390 673 M396 665.5 L394.5 672" />
<path class="t" d="M409 669 L409 690 Q412 694 415 689 L422 664" />
<path class="t" d="M421.5 661.5 C420 675 417 685 412.5 691" />
<path class="t" d="M405 670 L405 678 M411.5 667.5 L411.5 680" />
<ellipse class="w" cx="397.3" cy="684.5" rx="11.6" ry="16.2" transform="rotate(12 397.3 684.5)" />
<ellipse class="t" cx="399.5" cy="685" rx="9.0" ry="14.5" transform="rotate(12 399.5 685)" />
<path d="M398 676 C402 672 405 676 405 684 C405 692 402 699 398 699.5 C395 695 394 682 398 676 Z" fill="#333" stroke="#222" stroke-width="0.8"/>
<path d="M399.5 680 C402 678 403 682 402.5 688 C402 693 400.5 696 399 696.5 C397.5 692 397.5 684 399.5 680 Z" fill="#fff" stroke="#fff" stroke-width="0.5"/>
<path class="m" d="M399 682 L402 692 M398 688 L402 684" />
<ellipse class="w" cx="409.5" cy="688.5" rx="2.3" ry="2.6" />
<ellipse class="t" cx="409.5" cy="688.5" rx="1.0" ry="1.2" />
<path class="m" d="M386.5 676 L388 671.5" />
<text class="lb" x="191" y="160" transform="translate(191 0) scale(0.64 1) translate(-191 0)">4</text>
<path class="ul" d="M175 163.5 L207 163.5"/>
<path class="ld" d="M206.5 163.5 L212.2 200.6"/>
<text class="lb" x="257" y="160" transform="translate(257 0) scale(0.64 1) translate(-257 0)">5</text>
<path class="ul" d="M242.4 163.5 L274 163.5"/>
<path class="ld" d="M242.4 163.5 C234 176 226 190 218 199"/>
<text class="lb" x="233" y="254.5" transform="translate(233 0) scale(0.64 1) translate(-233 0)">3</text>
<path class="ul" d="M217.5 258.5 L249.5 258.5"/>
<path class="ld" d="M217 258.5 L204.4 207.8"/>
<text class="lb" x="258" y="339.5" transform="translate(258 0) scale(0.64 1) translate(-258 0)">2</text>
<path class="ul" d="M241.5 342.5 L274 342.5"/>
<path class="ld" d="M241.5 342.5 C225 333 200 310 184.5 301"/>
<text class="lb" x="240.5" y="409" transform="translate(240.5 0) scale(0.64 1) translate(-240.5 0)">7</text>
<path class="ul" d="M225 413.5 L257.5 413.5"/>
<path class="ld" d="M225 413.5 C212 428 203 440 196 450"/>
<text class="lb" x="240.5" y="671.5" transform="translate(240.5 0) scale(0.64 1) translate(-240.5 0)">6</text>
<path class="ul" d="M225 675 L257.5 675"/>
<path class="ld" d="M225 675 L208 617"/>
<text class="lb" x="321" y="540" transform="translate(321 0) scale(0.64 1) translate(-321 0)">8</text>
<path class="ul" d="M306 543 L337.5 543"/>
<path class="ld" d="M337.5 543 C355 548 370 555 383 561"/>
<text class="lb" x="321" y="569" transform="translate(321 0) scale(0.64 1) translate(-321 0)">9</text>
<path class="ul" d="M306 572 L337.5 572"/>
<path class="ld" d="M337.5 572 C355 575 370 580 381 582.5"/>
<text class="lb" x="322" y="599" transform="translate(322 0) scale(0.64 1) translate(-322 0)">10</text>
<path class="ul" d="M306 602.5 L337.5 602.5"/>
<path class="ld" d="M337.5 602.5 C355 600 370 596 382 593.5"/>
<text class="lb" x="322" y="633.5" transform="translate(322 0) scale(0.64 1) translate(-322 0)">11</text>
<path class="ul" d="M306 637 L337.5 637"/>
<path class="ld" d="M337.5 637 C355 628 370 615 383 605"/>
<text class="lb" x="322" y="671" transform="translate(322 0) scale(0.64 1) translate(-322 0)">12</text>
<path class="ul" d="M306 675 L337.5 675"/>
<path class="ld" d="M337.5 675 C355 660 370 645 387 627.5"/>
<text class="lb" x="526.5" y="626" transform="translate(526.5 0) scale(0.64 1) translate(-526.5 0)">1</text>
<path class="ul" d="M510 630 L540 630"/>
<path class="ld" d="M510 630 L445 549"/>
<text class="lb" x="568" y="261" transform="translate(568 0) scale(0.64 1) translate(-568 0)">13</text>
<path class="ul" d="M552 265.5 L584.5 265.5"/>
<path class="ld" d="M584.5 265.5 L599 296"/>
<text class="lb" x="640" y="261" transform="translate(640 0) scale(0.64 1) translate(-640 0)">14</text>
<path class="ul" d="M624 265 L655.5 265"/>
<path class="ld" d="M624 265 C618 278 614 290 610 300"/>
<text class="lb" x="687.5" y="260" transform="translate(687.5 0) scale(0.64 1) translate(-687.5 0)">15</text>
<path class="ul" d="M670 264 L703 264"/>
<path class="ld" d="M670 264 L625 309"/>
<text class="lb" x="687.5" y="296" transform="translate(687.5 0) scale(0.64 1) translate(-687.5 0)">16</text>
<path class="ul" d="M670 300 L703 300"/>
<path class="ld" d="M670 300 C662 303 657 310 653 317"/>
<text class="lb" x="831.5" y="350" transform="translate(831.5 0) scale(0.64 1) translate(-831.5 0)">17</text>
<path class="ul" d="M815.3 353 L847 353"/>
<path class="ld" d="M815.3 353 L800.5 432"/>
<text class="lb" x="800.5" y="612.5" transform="translate(800.5 0) scale(0.64 1) translate(-800.5 0)">18</text>
<path class="ul" d="M784 616.2 L816 616.2"/>
<path class="ld" d="M784 616.2 L772.5 632"/>
<text class="lb" x="849.5" y="612.5" transform="translate(849.5 0) scale(0.64 1) translate(-849.5 0)">19</text>
<path class="ul" d="M835 616.2 L865 616.2"/>
<path class="ld" d="M835 616.2 C820 626 805 640 791 649"/>
<text class="lb" x="849.5" y="645.5" transform="translate(849.5 0) scale(0.64 1) translate(-849.5 0)">20</text>
<path class="ul" d="M835 649 L865 649"/>
<path class="ld" d="M835 649 C825 650.5 815 652.5 806 655.5"/>
<text class="lb" x="849.5" y="681.5" transform="translate(849.5 0) scale(0.64 1) translate(-849.5 0)">21</text>
<path class="ul" d="M835 685 L865 685"/>
<path class="ld" d="M835 685 C827 680 820 676 813 671"/>
<path d="M204 208.3 L204.6 206.3 L209.3 204.3" fill="none" stroke="#111" stroke-width="1.8"/>
<path d="M211.5 200.5 L213 203" fill="none" stroke="#111" stroke-width="1.5"/>
<ellipse cx="217.2" cy="199.8" rx="1.7" ry="1.3" fill="#111"/>
<circle cx="800.3" cy="437.6" r="1.1" fill="#111"/>
<circle cx="445.2" cy="548.8" r="1.1" fill="#111"/>
</svg>
</body></html>
